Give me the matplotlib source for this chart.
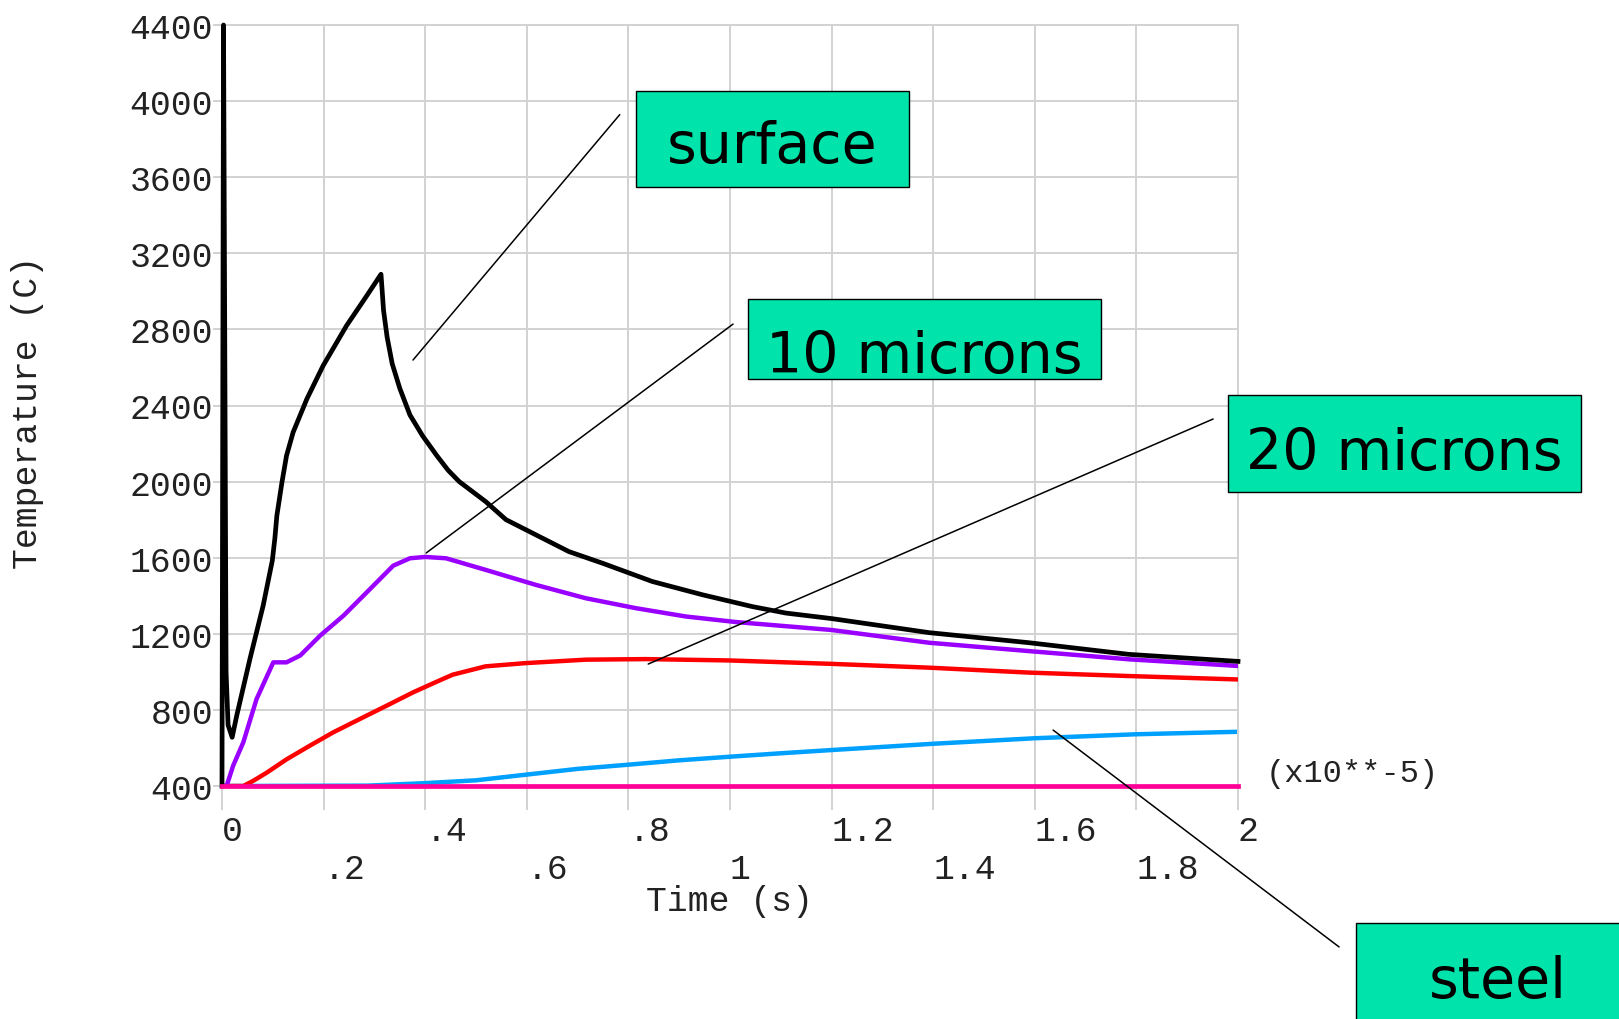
import matplotlib

matplotlib.use("Agg")
import matplotlib.pyplot as plt
from matplotlib.patches import Rectangle

# Time axis is in units of 1e-5 s; temperatures in C.
t_surface = [0, 0.003, 0.008, 0.012, 0.020, 0.029, 0.055, 0.081, 0.099, 0.104,
             0.108, 0.118, 0.127, 0.140, 0.167, 0.199, 0.245, 0.285, 0.313,
             0.318, 0.325, 0.335, 0.350, 0.370, 0.395, 0.423, 0.445, 0.467,
             0.519, 0.559, 0.618, 0.683, 0.749, 0.847, 0.946, 1.044, 1.110,
             1.200, 1.392, 1.589, 1.785, 2.0]
T_surface = [400, 4400, 1000, 720, 656, 770, 1068, 1348, 1584, 1700,
             1821, 1996, 2136, 2259, 2434, 2609, 2819, 2977, 3090,
             2900, 2760, 2620, 2490, 2350, 2240, 2136, 2060, 2000,
             1895, 1800, 1720, 1632, 1571, 1475, 1405, 1343, 1309,
             1280, 1206, 1153, 1092, 1055]

t_10um = [0, 0.009, 0.022, 0.042, 0.068, 0.101, 0.127, 0.154, 0.193, 0.239,
          0.285, 0.337, 0.370, 0.400, 0.441, 0.519, 0.618, 0.716, 0.814,
          0.913, 1.011, 1.200, 1.392, 1.589, 1.785, 2.0]
T_10um = [400, 400, 507, 630, 857, 1050, 1050, 1086, 1190, 1295,
          1418, 1558, 1597, 1604, 1597, 1536, 1457, 1387, 1335,
          1291, 1262, 1220, 1153, 1109, 1066, 1031]

t_20um = [0, 0.042, 0.062, 0.088, 0.127, 0.173, 0.219, 0.272, 0.324, 0.376,
          0.420, 0.454, 0.519, 0.598, 0.716, 0.834, 0.998, 1.110, 1.200,
          1.392, 1.589, 1.785, 2.0]
T_20um = [400, 400, 428, 470, 540, 612, 682, 753, 822, 892,
          945, 985, 1029, 1046, 1064, 1067, 1060, 1050, 1042,
          1022, 996, 978, 960]

t_steel = [0, 0.287, 0.4, 0.5, 0.6, 0.7, 0.8, 0.9, 1.0, 1.1, 1.2, 1.4, 1.6,
           1.8, 2.0]
T_steel = [400, 402, 415, 430, 460, 490, 512, 535, 554, 572, 589, 622, 651,
           672, 685]

t_base = [0, 2.0]
T_base = [400, 400]

x_ticks = [0, 0.2, 0.4, 0.6, 0.8, 1.0, 1.2, 1.4, 1.6, 1.8, 2.0]
x_tick_labels = ["0", ".2", ".4", ".6", ".8", "1", "1.2", "1.4", "1.6", "1.8", "2"]
y_ticks = list(range(400, 4401, 400))

# callout label, point on the curve, far end of the leader (data coords)
callouts = [
    ("surface", (0.376, 2639), (0.783, 3929)),
    ("10 microns", (0.402, 1625), (1.006, 2828)),
    ("20 microns", (0.839, 1041), (1.951, 2329)),
    ("steel", (1.636, 694), (2.199, -446)),
]
# callout boxes in figure pixels: x0, y0 (top), x1, y1 (bottom), text baseline
boxes = {
    "surface": (636, 92, 909, 188, 163),
    "10 microns": (748, 300, 1101, 380, 373),
    "20 microns": (1228, 396, 1581, 493, 470),
    "steel": (1356, 924, 1640, 1040, 998),
}

W, H = 1619, 1020
GRID = "#d2d2d2"
MONO = "Liberation Mono"
BOX_FILL = "#00e3aa"

fig = plt.figure(figsize=(W / 100, H / 100), dpi=100)
ax = fig.add_axes([222 / W, 1 - 787 / H, 1016 / W, 761 / H])

ax.plot(t_base, T_base, color="#ff0099", lw=3.4, zorder=6, clip_on=False)
ax.plot(t_steel, T_steel, color="#00a0ff", lw=3.2, zorder=2)
ax.plot(t_20um, T_20um, color="#ff0000", lw=3.2, zorder=3)
ax.plot(t_10um, T_10um, color="#9900ff", lw=3.2, zorder=4)
ax.plot(t_surface, T_surface, color="black", lw=3.4, zorder=5, clip_on=False)

ax.set_xlim(0, 2)
ax.set_ylim(400, 4400)
ax.set_xticks(x_ticks)
ax.set_xticklabels([])
ax.set_yticks(y_ticks)
ax.set_yticklabels([str(v) for v in y_ticks], fontfamily=MONO, fontsize=25,
                   color="#222222")
ax.grid(True, color=GRID, lw=1.4, zorder=0)
ax.tick_params(axis="x", direction="out", length=17, width=1.4, color=GRID)
ax.tick_params(axis="y", direction="out", length=6.5, width=1.4, color=GRID,
               pad=0)
for sp in ax.spines.values():
    sp.set_color(GRID)
    sp.set_linewidth(1.4)

# staggered x tick labels: even ticks on the first row, odd ones below
xtr = ax.get_xaxis_transform()
for i, (x, lab) in enumerate(zip(x_ticks, x_tick_labels)):
    y = -0.058 if i % 2 == 0 else -0.109
    ax.text(x, y, lab, transform=xtr, ha="left", va="center",
            fontfamily=MONO, fontsize=25, color="#222222")

ax.text(0.5, -0.150, "Time (s)", transform=ax.transAxes, ha="center",
        va="center", fontfamily=MONO, fontsize=25, color="#222222")
ax.text(1.027, 0.017, "(x10**-5)", transform=ax.transAxes, ha="left",
        va="center", fontfamily=MONO, fontsize=23, color="#222222")
fig.text(28 / W, 1 - 412 / H, "Temperature (C)", rotation=90, ha="center",
         va="center", fontfamily=MONO, fontsize=25, color="#222222")

for label, tip, end in callouts:
    ax.annotate("", xy=tip, xytext=end,
                arrowprops=dict(arrowstyle="-", lw=1.1, color="black",
                                shrinkA=0, shrinkB=0),
                annotation_clip=False, zorder=7)
    x0, y0, x1, y1, base = boxes[label]
    fig.add_artist(Rectangle((x0 / W, 1 - y1 / H), (x1 - x0) / W,
                             (y1 - y0) / H, transform=fig.transFigure,
                             facecolor=BOX_FILL, edgecolor="black", lw=1.0,
                             zorder=8))
    fig.text((x0 + x1) / 2 / W, 1 - base / H, label, ha="center",
             va="baseline", fontfamily="DejaVu Sans", fontsize=41,
             color="black", zorder=9)

fig.savefig("out.png", dpi=100, facecolor="white")
